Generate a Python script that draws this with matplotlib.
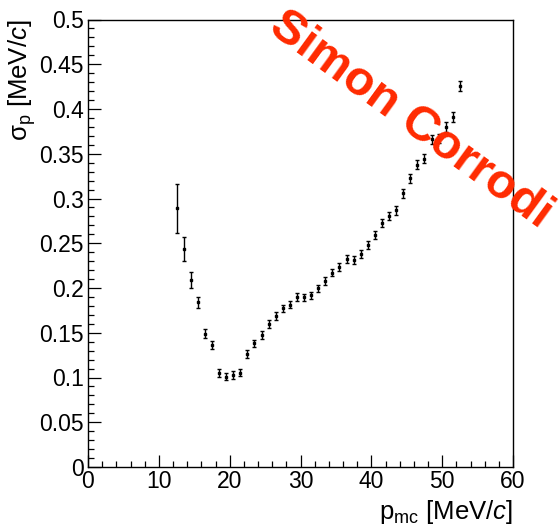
import matplotlib
matplotlib.use("Agg")
import matplotlib.pyplot as plt
from matplotlib.ticker import MultipleLocator

p_mc = [12.5, 13.5, 14.5, 15.5, 16.5, 17.5, 18.5, 19.5, 20.5, 21.5,
        22.5, 23.5, 24.5, 25.5, 26.5, 27.5, 28.5, 29.5, 30.5, 31.5,
        32.5, 33.5, 34.5, 35.5, 36.5, 37.5, 38.5, 39.5, 40.5, 41.5,
        42.5, 43.5, 44.5, 45.5, 46.5, 47.5, 48.5, 49.5, 50.5, 51.5, 52.5]
sigma_p = [0.289, 0.2436, 0.209, 0.184, 0.149, 0.136, 0.105, 0.101, 0.1028, 0.1054,
           0.126, 0.138, 0.1475, 0.160, 0.169, 0.1773, 0.1813, 0.190, 0.1896, 0.1918,
           0.1997, 0.2078, 0.2171, 0.2235, 0.2324, 0.2313, 0.2383, 0.248, 0.2592, 0.2723,
           0.2806, 0.2866, 0.3058, 0.3226, 0.3378, 0.3445, 0.366, 0.3673, 0.380, 0.3914, 0.4257]
sigma_err = [0.027, 0.0135, 0.009, 0.0065, 0.0048, 0.0045, 0.0042, 0.0042, 0.0042, 0.0042,
             0.0042, 0.0042, 0.0042, 0.0042, 0.0042, 0.0042, 0.0042, 0.0042, 0.0042, 0.0042,
             0.0042, 0.0042, 0.0042, 0.0042, 0.0045, 0.0045, 0.0045, 0.0045, 0.0045, 0.0045,
             0.0045, 0.0048, 0.0048, 0.005, 0.005, 0.005, 0.0052, 0.0052, 0.0055, 0.0055, 0.006]

plt.rcParams['font.family'] = ['Liberation Sans', 'DejaVu Sans']
plt.rcParams['mathtext.fontset'] = 'custom'
plt.rcParams['mathtext.rm'] = 'Liberation Sans'
plt.rcParams['mathtext.it'] = 'Liberation Sans:italic'
plt.rcParams['mathtext.bf'] = 'Liberation Sans:bold'

fig = plt.figure(figsize=(5.59, 5.28), dpi=100)
ax = fig.add_axes([88/559, (528-467)/528, (513-88)/559, (467-19.5)/528])

ax.errorbar(p_mc, sigma_p, yerr=sigma_err, fmt='s', color='black',
            markersize=1.8, elinewidth=1.0, capsize=1.6, capthick=1.0)

ax.set_xlim(0, 60)
ax.set_ylim(0, 0.5)
ax.xaxis.set_major_locator(MultipleLocator(10))
ax.xaxis.set_minor_locator(MultipleLocator(2))
ax.yaxis.set_minor_locator(MultipleLocator(0.01))
ax.set_yticks([0, 0.05, 0.1, 0.15, 0.2, 0.25, 0.3, 0.35, 0.4, 0.45, 0.5])
ax.set_yticklabels(['0', '0.05', '0.1', '0.15', '0.2', '0.25', '0.3', '0.35', '0.4', '0.45', '0.5'])
ax.tick_params(which='both', direction='in', top=False, right=False, labelsize=16.5, width=0.9)
ax.tick_params(which='major', length=9)
ax.tick_params(which='minor', length=4.5)
ax.tick_params(axis='y', pad=3)
ax.tick_params(axis='x', pad=2)
for s in ax.spines.values():
    s.set_linewidth(1.0)

ax.set_xlabel(r'p$_{\rm mc}$ [MeV/$c$]', fontsize=18.5, loc='right', labelpad=4)
ax.set_ylabel(r'σ$_{\rm p}$ [MeV/$c$]', fontsize=18.5, loc='top')
ax.yaxis.set_label_coords(-0.118, 1.0)

fig.text(411, 528-120, 'Simon Corrodi', transform=None, color='#ff2a00',
         fontsize=35, fontweight='bold', rotation=-36, rotation_mode='anchor',
         ha='center', va='center')

fig.savefig('out.png', dpi=100)
